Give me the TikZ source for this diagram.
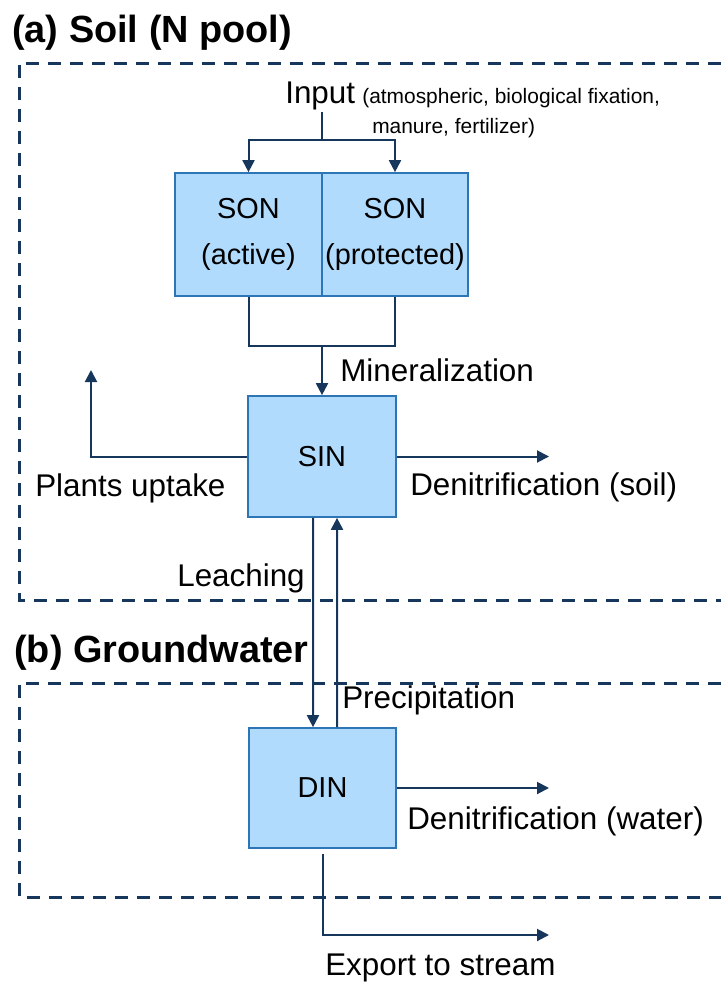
\documentclass[tikz,border=0pt]{standalone}
\usepackage{fontspec}
\setmainfont{Liberation Sans}
\usetikzlibrary{calc}
\usetikzlibrary{positioning}
\usetikzlibrary{arrows.meta}
\definecolor{navyLine}{RGB}{22,54,92}
\definecolor{poolFill}{RGB}{176,219,253}
\definecolor{poolEdge}{RGB}{46,117,182}
\tikzset{every picture/.style={semithick, >={Triangle[length=12bp,width=12bp]}}}

\begin{document}
\begin{tikzpicture}[x=1bp,y=-1bp,
    pool/.style={draw=poolEdge,fill=poolFill,line width=1.7bp,inner sep=0pt,align=center,
        font=\fontsize{29}{46}\selectfont},
    flux/.style={draw=navyLine,line width=2bp},
    lbl/.style={inner sep=0pt,font=\fontsize{31.5}{36}\selectfont},
    note/.style={inner sep=0pt,font=\fontsize{21}{25}\selectfont},
    region/.style={draw=navyLine,line width=3bp,dash pattern=on 13bp off 9bp},
    heading/.style={inner sep=0pt,anchor=base west,font=\fontsize{38}{44}\selectfont\bfseries}]
            \useasboundingbox (0,0) rectangle (721,984);
            % soil and groundwater frames
            \draw[region] (721,63) -- (19,63) -- (19,600) -- (721,600);
            \draw[region] (721,683) -- (19,683) -- (19,897) -- (721,897);
            \node[heading] (titleA) at (12,42) {(a) Soil (N pool)};
            \node[heading] (titleB) at (14,662) {(b) Groundwater};

            % pools
            \node[pool,minimum width=147bp,minimum height=123bp] (sonA) at (248.5,234.5) {SON\\(active)};
            \node[pool,minimum width=146bp,minimum height=123bp] (sonP) at (395,234.5) {SON\\(protected)};
            \node[pool,minimum width=148bp,minimum height=121bp] (sin) at (322,456.5) {SIN};
            \node[pool,minimum width=147bp,minimum height=120bp] (din) at (322.5,788) {DIN};

            % input
            \node[lbl,anchor=base west] (input) at (285,103) {Input};
            \node[note,anchor=base west] (srcA) at (362,103) {(atmospheric, biological fixation,};
            \node[note,anchor=base west] (srcB) at (372,133) {manure, fertilizer)};
            \coordinate (inTop) at (322,112);
            \coordinate (split) at (322,140);
            \draw[flux,->] (inTop) -- (split) -| (sonA.north);
            \draw[flux,->] (split) -| (sonP.north);

            % mineralization
            \coordinate (merge) at (322,346);
            \draw[flux] (sonA.south) |- (merge) -| (sonP.south);
            \draw[flux,->] (merge) -- (sin.north);
            \node[lbl,anchor=west] (minLbl) at (340,370) {Mineralization};

            % soil fluxes
            \coordinate (plantTip) at (91,370);
            \draw[flux,->] (sin.west) -| (plantTip);
            \node[lbl,anchor=west] (plantLbl) at (35,488) {Plants uptake};
            \coordinate (denSoilTip) at (549,456.5);
            \draw[flux,->] (sin.east) -- (denSoilTip);
            \node[lbl,anchor=west] (denSoilLbl) at (410,487) {Denitrification (soil)};

            % exchange soil / groundwater
            \draw[flux,->] ([xshift=-9bp]sin.south) -- ([xshift=-9.5bp]din.north);
            \node[lbl,anchor=east] (leachLbl) at (305,578) {Leaching};
            \draw[flux,->] ([xshift=14.5bp]din.north) -- ([xshift=15bp]sin.south);
            \node[lbl,anchor=west] (precLbl) at (342,700) {Precipitation};

            % groundwater fluxes
            \coordinate (denWaterTip) at (549,788);
            \draw[flux,->] (din.east) -- (denWaterTip);
            \node[lbl,anchor=west] (denWaterLbl) at (407,821) {Denitrification (water)};
            \coordinate (exportBend) at (322.5,935);
            \coordinate (exportTip) at (549,935);
            \draw[flux,->] ([yshift=-5bp]din.south) -- (exportBend) -- (exportTip);
            \node[lbl,anchor=west] (exportLbl) at (325,968) {Export to stream};
        \end{tikzpicture}
\end{document}
